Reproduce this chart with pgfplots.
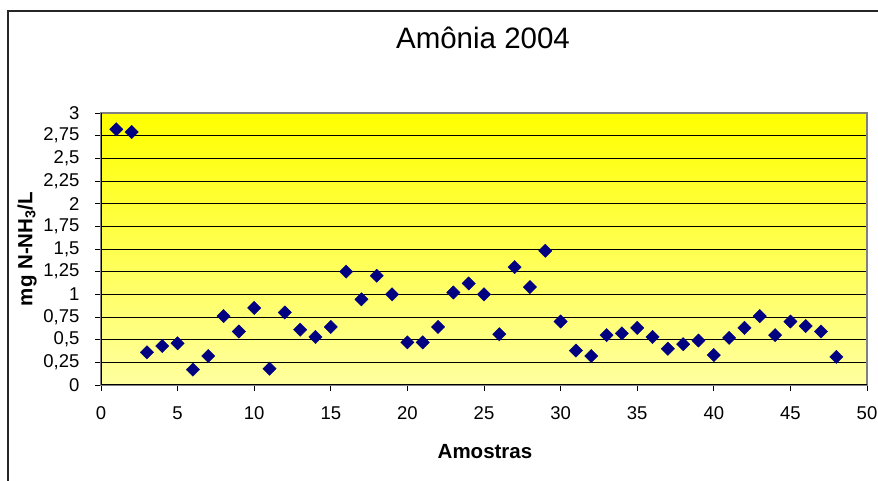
\documentclass[border=0pt]{standalone}
\usepackage{pgfplots}
\pgfplotsset{compat=1.18}
\usepackage{fontspec}
\setmainfont{Liberation Sans}
\definecolor{navy}{RGB}{0,0,128}
\definecolor{lightyel}{RGB}{255,255,160}
\definecolor{framegray}{RGB}{128,128,128}
\begin{document}
\begin{tikzpicture}[x=1pt,y=1pt]
\path[use as bounding box] (0,0) rectangle (878,481);
\draw[line width=1.3pt,black!85] (8,0) -- (8,470) -- (878,470);
\begin{axis}[
  at={(101pt,96pt)}, anchor=south west,
  scale only axis, width=766pt, height=272pt,
  xmin=0, xmax=50, ymin=0, ymax=3,
  xtick={0,5,...,50},
  xticklabels={0,5,10,15,20,25,30,35,40,45,50},
  ytick={0,0.25,...,3},
  yticklabels={0,{0,25},{0,5},{0,75},1,{1,25},{1,5},{1,75},2,{2,25},{2,5},{2,75},3},
  tick align=outside, major tick length=6pt,
  tick style={black, line width=0.8pt},
  xtick pos=bottom, ytick pos=left,
  ymajorgrids, grid style={black, line width=0.9pt},
  axis line style={framegray, line width=1.8pt},
  axis background/.style={top color=yellow, bottom color=lightyel},
  ticklabel style={font=\fontsize{18.5}{21}\selectfont},
  xticklabel style={yshift=-12pt},
  yticklabel style={xshift=-12pt},
  clip=false,
]
\addplot[only marks, mark=square*, mark size=4.7pt, mark options={rotate=45, fill=navy, draw=navy}] coordinates {
(1,2.82) (2,2.79) (3,0.36) (4,0.43) (5,0.46) (6,0.17) (7,0.32) (8,0.76) (9,0.59) (10,0.85)
(11,0.18) (12,0.80) (13,0.61) (14,0.53) (15,0.64) (16,1.25) (17,0.945) (18,1.205) (19,1.00) (20,0.47)
(21,0.47) (22,0.64) (23,1.02) (24,1.12) (25,1.00) (26,0.56) (27,1.30) (28,1.08) (29,1.48) (30,0.70)
(31,0.38) (32,0.32) (33,0.55) (34,0.57) (35,0.63) (36,0.53) (37,0.40) (38,0.45) (39,0.49) (40,0.33)
(41,0.52) (42,0.63) (43,0.76) (44,0.55) (45,0.70) (46,0.65) (47,0.59) (48,0.31)
};
\draw[black, line width=1pt] (axis cs:0,3) -- (axis cs:0,0) -- (axis cs:50,0);
\end{axis}
\node[font=\fontsize{29.5}{34}\selectfont] at (483,443) {Amônia 2004};
\node[font=\fontsize{20.5}{24}\selectfont\bfseries] at (485,29) {Amostras};
\node[font=\fontsize{20.5}{24}\selectfont\bfseries, rotate=90] at (27,232) {mg N-NH\textsubscript{3}/L};
\end{tikzpicture}
\end{document}
